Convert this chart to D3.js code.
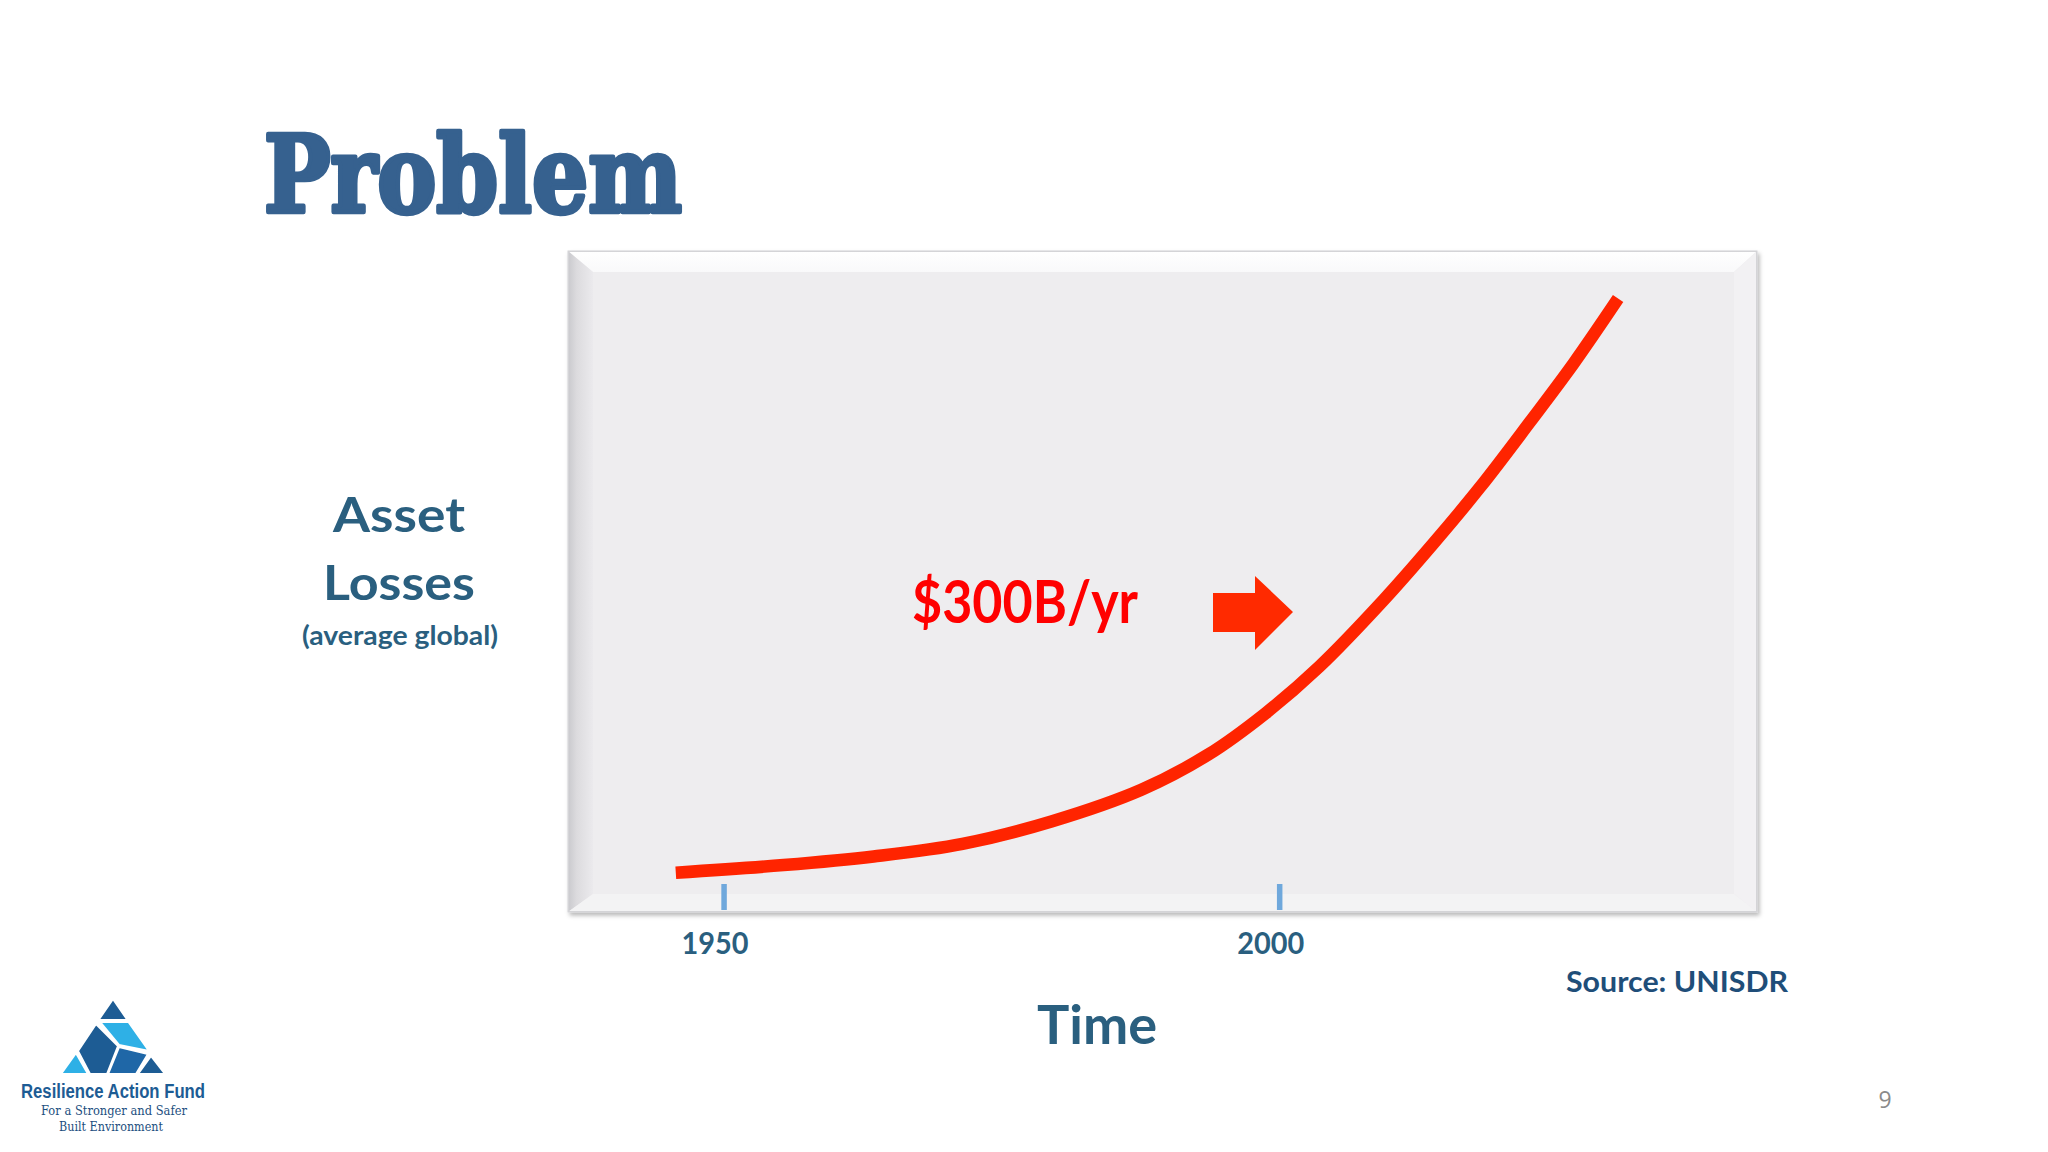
<!DOCTYPE html>
<html>
<head>
<meta charset="utf-8">
<script src="https://cdn.jsdelivr.net/npm/d3@7"></script>
<style>
  html, body { margin: 0; padding: 0; background: #ffffff; }
  svg { display: block; }
</style>
</head>
<body>
<svg id="chart" width="2048" height="1152"></svg>
<script>
// ---------------- DATA ----------------
const years  = [1945.7, 1955.4, 1963.5, 1971.5, 1979.5, 1987.6, 1993.6, 1998.8, 2003.6, 2009.4, 2013.9, 2018.1, 2022.6, 2026.5, 2030.5];
const losses = [5.95, 7.1, 8.4, 10.3, 13.7, 18.5, 23.8, 30.1, 37.1, 47.2, 55.8, 64.3, 74.2, 83.0, 92.8];
const tickYears  = [1950, 2000];
const tickLabels = ["1950", "2000"];
const titleText = "Problem";
const yLabelLines = ["Asset", "Losses"];
const yLabelSub = "(average global)";
const xLabel = "Time";
const annotation = "$300B/yr";
const sourceText = "Source: UNISDR";
const pageNumber = "9";
const logoName = "Resilience Action Fund";
const logoTag = ["For a Stronger and Safer", "Built Environment"];

// ---------------- LAYOUT ----------------
const svg = d3.select("#chart");
const box = { x0: 568, x1: 1757, y0: 251, y1: 912 };
const bevel = { l: 25, t: 21, r: 23, b: 18 };
const labelColor = "#2a5f7f";

const x = d3.scaleLinear().domain([1936, 2043]).range([box.x0, box.x1]);
const y = d3.scaleLinear().domain([0, 100]).range([box.y1, box.y0]);

const defs = svg.append("defs");
const sh = defs.append("filter").attr("id", "shadow")
  .attr("x", "-5%").attr("y", "-5%").attr("width", "110%").attr("height", "110%");
sh.append("feDropShadow").attr("dx", 2).attr("dy", 3).attr("stdDeviation", 2)
  .attr("flood-color", "#000").attr("flood-opacity", 0.28);

const gl = defs.append("linearGradient").attr("id", "leftBevel")
  .attr("x1", "0").attr("x2", "1").attr("y1", "0").attr("y2", "0");
gl.append("stop").attr("offset", "0").attr("stop-color", "#c9c9cd");
gl.append("stop").attr("offset", "0.35").attr("stop-color", "#dcdbde");
gl.append("stop").attr("offset", "1").attr("stop-color", "#ebeaed");

const gt = defs.append("linearGradient").attr("id", "topBevel")
  .attr("x1", "0").attr("x2", "0").attr("y1", "0").attr("y2", "1");
gt.append("stop").attr("offset", "0").attr("stop-color", "#ffffff");
gt.append("stop").attr("offset", "1").attr("stop-color", "#f9f9fa");

// ---------------- FRAME ----------------
const frame = svg.append("g");
frame.append("rect")
  .attr("x", box.x0).attr("y", box.y0)
  .attr("width", box.x1 - box.x0).attr("height", box.y1 - box.y0)
  .attr("fill", "#eeedef").attr("stroke", "#d2d2d5").attr("stroke-width", 1)
  .attr("filter", "url(#shadow)");

const ix0 = box.x0 + bevel.l, ix1 = box.x1 - bevel.r, iy0 = box.y0 + bevel.t, iy1 = box.y1 - bevel.b;
const poly = pts => pts.map(p => p.join(",")).join(" ");
frame.append("polygon").attr("points", poly([[box.x0, box.y0], [box.x1, box.y0], [ix1, iy0], [ix0, iy0]]))
  .attr("fill", "url(#topBevel)");
frame.append("polygon").attr("points", poly([[box.x0, box.y0], [ix0, iy0], [ix0, iy1], [box.x0, box.y1]]))
  .attr("fill", "url(#leftBevel)");
frame.append("polygon").attr("points", poly([[box.x1, box.y0], [box.x1, box.y1], [ix1, iy1], [ix1, iy0]]))
  .attr("fill", "#f2f1f3");
frame.append("polygon").attr("points", poly([[box.x0, box.y1], [ix0, iy1], [ix1, iy1], [box.x1, box.y1]]))
  .attr("fill", "#f3f3f4");
frame.append("rect")
  .attr("x", box.x0 + 0.5).attr("y", box.y0 + 0.5)
  .attr("width", box.x1 - box.x0 - 1).attr("height", box.y1 - box.y0 - 1)
  .attr("fill", "none").attr("stroke", "#d4d4d7").attr("stroke-width", 1);

// ---------------- AXIS (ticks) ----------------
const axis = d3.axisBottom(x)
  .tickValues(tickYears)
  .tickFormat((d, i) => tickLabels[i])
  .tickSizeInner(-26).tickSizeOuter(0).tickPadding(22);
const ax = svg.append("g").attr("transform", `translate(0,${box.y1 - 2})`).call(axis);
ax.select(".domain").remove();
ax.selectAll(".tick line").attr("stroke", "#6fa8dc").attr("stroke-width", 5.5);
ax.selectAll(".tick text")
  .attr("fill", labelColor)
  .attr("font-family", "Lato, 'Open Sans', sans-serif")
  .attr("font-weight", 700)
  .attr("font-size", 31)
  .attr("transform", "translate(-9,0)")
  .attr("textLength", 67).attr("lengthAdjust", "spacingAndGlyphs");

// ---------------- CURVE ----------------
const data = years.map((yr, i) => ({ yr, v: losses[i] }));
const line = d3.line().x(d => x(d.yr)).y(d => y(d.v)).curve(d3.curveCatmullRom.alpha(0.5));
svg.append("path").datum(data)
  .attr("d", line)
  .attr("fill", "none")
  .attr("stroke", "#ff2400")
  .attr("stroke-width", 12.5)
  .attr("stroke-linecap", "butt");

// ---------------- ANNOTATION ----------------
svg.append("text")
  .attr("x", 912).attr("y", 623)
  .attr("font-family", "Lato, 'Open Sans', sans-serif")
  .attr("font-weight", 700).attr("font-size", 60)
  .attr("fill", "#ff0000")
  .attr("textLength", 226).attr("lengthAdjust", "spacingAndGlyphs")
  .text(annotation);
svg.append("polygon")
  .attr("points", poly([[1213, 593], [1255, 593], [1255, 576], [1293, 612], [1255, 650], [1255, 632], [1213, 632]]))
  .attr("fill", "#ff2a00");

// ---------------- TITLE ----------------
svg.append("text")
  .attr("x", 264).attr("y", 212)
  .attr("font-family", "'DejaVu Serif', 'Liberation Serif', serif")
  .attr("font-weight", 700).attr("font-stretch", "condensed")
  .attr("font-size", 106)
  .attr("fill", "#36618f")
  .attr("stroke", "#36618f").attr("stroke-width", 4.5).attr("stroke-linejoin", "round")
  .attr("textLength", 418).attr("lengthAdjust", "spacingAndGlyphs")
  .text(titleText);

// ---------------- Y LABEL ----------------
const ylab = svg.append("g").attr("fill", labelColor)
  .attr("font-family", "Lato, 'Open Sans', sans-serif").attr("font-weight", 700)
  .attr("text-anchor", "middle");
ylab.append("text").attr("x", 399).attr("y", 532).attr("font-size", 48)
  .attr("textLength", 132).attr("lengthAdjust", "spacingAndGlyphs").text(yLabelLines[0]);
ylab.append("text").attr("x", 399).attr("y", 600).attr("font-size", 48)
  .attr("textLength", 152).attr("lengthAdjust", "spacingAndGlyphs").text(yLabelLines[1]);
ylab.append("text").attr("x", 400).attr("y", 645).attr("font-size", 27)
  .attr("textLength", 196).attr("lengthAdjust", "spacingAndGlyphs").text(yLabelSub);

// ---------------- X LABEL ----------------
svg.append("text").attr("x", 1097).attr("y", 1044)
  .attr("text-anchor", "middle")
  .attr("font-family", "Lato, 'Open Sans', sans-serif").attr("font-weight", 700)
  .attr("font-size", 54).attr("fill", labelColor)
  .attr("textLength", 120).attr("lengthAdjust", "spacingAndGlyphs")
  .text(xLabel);

// ---------------- SOURCE ----------------
svg.append("text").attr("x", 1566).attr("y", 992)
  .attr("font-family", "Lato, 'Open Sans', sans-serif").attr("font-weight", 700)
  .attr("font-size", 29).attr("fill", "#1f4e79")
  .attr("textLength", 222).attr("lengthAdjust", "spacingAndGlyphs")
  .text(sourceText);

// ---------------- PAGE NUMBER ----------------
svg.append("text").attr("x", 1885).attr("y", 1108)
  .attr("text-anchor", "middle")
  .attr("font-family", "'Open Sans', sans-serif")
  .attr("font-size", 23).attr("fill", "#8a8a8a")
  .text(pageNumber);

// ---------------- LOGO ----------------
const logo = svg.append("g").attr("stroke", "#ffffff").attr("stroke-width", 2).attr("stroke-linejoin", "round");
const logoShapes = [
  { c: "#1d5c94", p: [[113, 999], [127.5, 1020], [98.5, 1020]] },
  { c: "#2eb0e6", p: [[100, 1022], [128.5, 1022], [149, 1051], [119, 1045]] },
  { c: "#1d5c94", p: [[96, 1024], [118, 1046], [107, 1074], [90, 1074], [78, 1051]] },
  { c: "#2eb0e6", p: [[76, 1053], [88, 1074], [61, 1074]] },
  { c: "#1f67a7", p: [[119, 1047], [148, 1054], [136, 1074], [108, 1074]] },
  { c: "#1d5c94", p: [[151, 1056], [165, 1074], [138, 1074]] }
];
logo.selectAll("polygon").data(logoShapes).join("polygon")
  .attr("points", d => poly(d.p)).attr("fill", d => d.c);

svg.append("text").attr("x", 113).attr("y", 1098)
  .attr("text-anchor", "middle")
  .attr("font-family", "'Liberation Sans Narrow', 'Liberation Sans', Arial, sans-serif")
  .attr("font-weight", 700).attr("font-size", 20).attr("fill", "#1d5c94")
  .attr("textLength", 184).attr("lengthAdjust", "spacingAndGlyphs")
  .text(logoName);
svg.append("text").attr("x", 114).attr("y", 1115)
  .attr("text-anchor", "middle")
  .attr("font-family", "'DejaVu Serif', 'Liberation Serif', serif")
  .attr("font-size", 12.5).attr("fill", "#1d4f80")
  .attr("textLength", 146).attr("lengthAdjust", "spacingAndGlyphs")
  .text(logoTag[0]);
svg.append("text").attr("x", 111).attr("y", 1131)
  .attr("text-anchor", "middle")
  .attr("font-family", "'DejaVu Serif', 'Liberation Serif', serif")
  .attr("font-size", 12.5).attr("fill", "#1d4f80")
  .attr("textLength", 104).attr("lengthAdjust", "spacingAndGlyphs")
  .text(logoTag[1]);
</script>
</body>
</html>
